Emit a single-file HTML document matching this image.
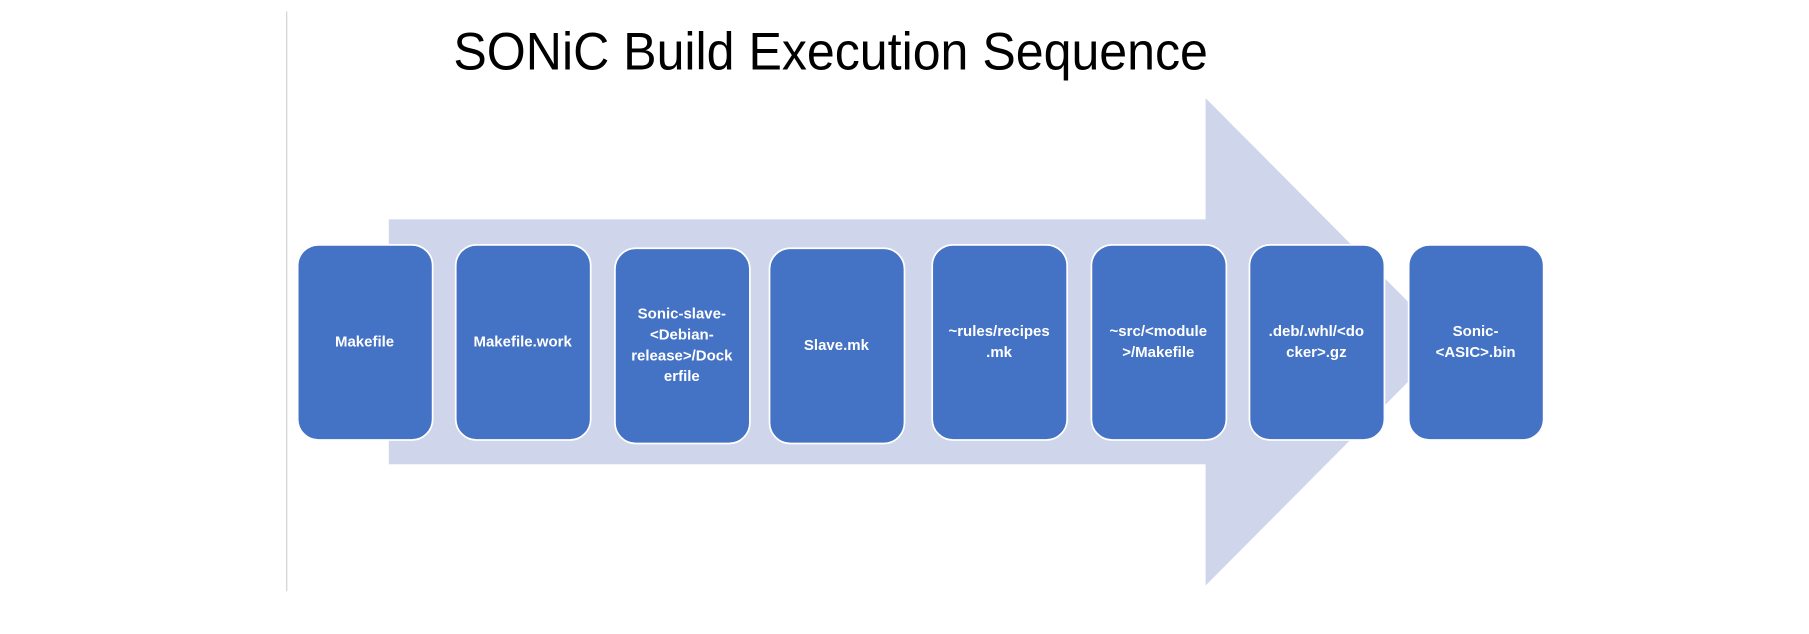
<!DOCTYPE html>
<html><head><meta charset="utf-8"><style>
html,body{margin:0;padding:0;background:#fff;overflow:hidden}
#w{width:1568px;height:549px;transform:scale(1.15370,1.15483);transform-origin:0 0;position:relative}
</style></head><body><div id="w">
<svg width="1568" height="549" xmlns="http://www.w3.org/2000/svg" font-family="Liberation Sans, sans-serif">
<line x1="248.5" y1="10" x2="248.5" y2="512" stroke="#d0d0d0" stroke-width="1"/>
<text x="393" y="60" font-size="46" fill="#000" textLength="654" lengthAdjust="spacingAndGlyphs">SONiC Build Execution Sequence</text>
<polygon points="337,190 1045,190 1045,85 1255,296 1045,507 1045,402 337,402" fill="#cfd5ea"/>
<g fill="#4472c4" stroke="#fff" stroke-width="1.5">
<rect x="258" y="212" width="117" height="169" rx="18"/>
<rect x="395" y="212" width="117" height="169" rx="18"/>
<rect x="533" y="215" width="117" height="169" rx="18"/>
<rect x="667" y="215" width="117" height="169" rx="18"/>
<rect x="808" y="212" width="117" height="169" rx="18"/>
<rect x="946" y="212" width="117" height="169" rx="18"/>
<rect x="1083" y="212" width="117" height="169" rx="18"/>
<rect x="1221" y="212" width="117" height="169" rx="18"/>
</g>
<g fill="#fff" font-size="13" font-weight="bold" text-anchor="middle">
<text x="316" y="300">Makefile</text>
<text x="453" y="300">Makefile.work</text>
<text x="591" y="276">Sonic-slave-</text>
<text x="591" y="294">&lt;Debian-</text>
<text x="591" y="312">release&gt;/Dock</text>
<text x="591" y="330">erfile</text>
<text x="725" y="303">Slave.mk</text>
<text x="866" y="291">~rules/recipes</text>
<text x="866" y="309">.mk</text>
<text x="1004" y="291">~src/&lt;module</text>
<text x="1004" y="309">&gt;/Makefile</text>
<text x="1141" y="291">.deb/.whl/&lt;do</text>
<text x="1141" y="309">cker&gt;.gz</text>
<text x="1279" y="291">Sonic-</text>
<text x="1279" y="309">&lt;ASIC&gt;.bin</text>
</g>
</svg>
</div></body></html>
